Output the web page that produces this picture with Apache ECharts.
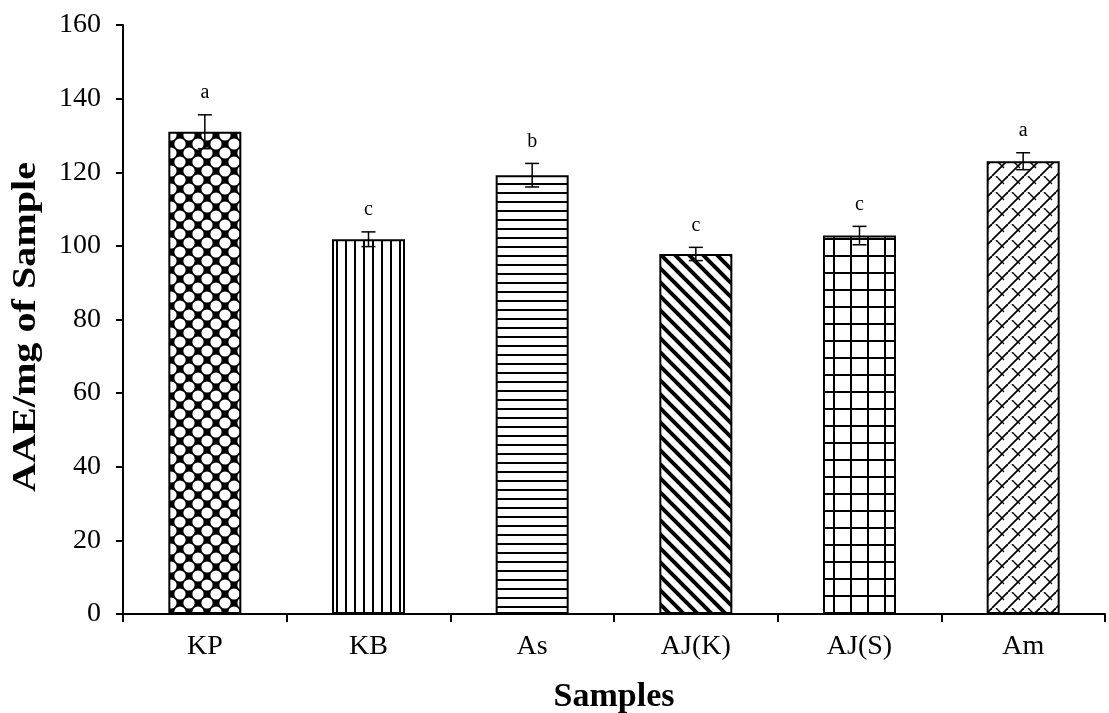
<!DOCTYPE html>
<html><head><meta charset="utf-8">
<script src="https://cdn.jsdelivr.net/npm/echarts@6/dist/echarts.min.js"></script>
<style>html,body{margin:0;padding:0;background:#fff}#c{width:1109px;height:713px}</style>
</head><body><div id="c"></div>
<script>
const categories = ['KP','KB','As','AJ(K)','AJ(S)','Am'];
const values = [131, 101.8, 119.2, 97.8, 102.8, 123];
const errors = [4.6, 2, 3.2, 1.8, 2.5, 2.3];
const letters = ['a','c','b','c','c','a'];
const yTicks = [0,20,40,60,80,100,120,140,160];
const yTitle = 'AAE/mg of Sample';
const xTitle = 'Samples';

function mk(w,h,draw){const c=document.createElement('canvas');c.width=w;c.height=h;const g=c.getContext('2d');g.fillStyle='#fff';g.fillRect(0,0,w,h);draw(g,w,h);return c;}
const pats = [
  mk(18,18,(g,w,h)=>{g.fillStyle='#000';g.fillRect(0,0,w,h);g.fillStyle='#fff';
    [[0,0],[18,0],[0,18],[18,18],[9,9]].forEach(p=>{g.beginPath();g.arc(p[0],p[1],5.6,0,Math.PI*2);g.fill();});}),
  mk(9,10,(g)=>{g.fillStyle='#000';g.fillRect(3,0,2,10);}),
  mk(10,9,(g)=>{g.fillStyle='#000';g.fillRect(0,3,10,2);}),
  mk(14,14,(g,w,h)=>{g.strokeStyle='#000';g.lineWidth=4;
    for(let k=-1;k<=1;k++){g.beginPath();g.moveTo(k*w-2,-2);g.lineTo(k*w+w+2,h+2);g.stroke();}}),
  mk(17,17,(g)=>{g.fillStyle='#000';g.fillRect(0,0,17,2);g.fillRect(0,0,2,17);}),
  mk(16,16,(g,w,h)=>{g.strokeStyle='#000';g.lineWidth=1.8;
    for(let k=-1;k<=1;k++){g.beginPath();g.moveTo(k*w,h);g.lineTo(k*w+w,0);g.stroke();}
    g.lineWidth=1.4;for(let k=-1;k<=1;k++){g.beginPath();g.moveTo(k*w+4,0);g.lineTo(k*w+4+w/2,h/2);g.stroke();}})
];

const chart = echarts.init(document.getElementById('c'));
const serif = '"Liberation Serif","Times New Roman",serif';
chart.setOption({
  animation:false,
  grid:{left:123,right:4,top:25,bottom:99,containLabel:false,outerBoundsMode:'none'},
  xAxis:{type:'category',data:categories,
    axisLine:{lineStyle:{color:'#000',width:2}},
    axisTick:{show:true,length:8,lineStyle:{color:'#000',width:2},alignWithLabel:false},
    axisLabel:{color:'#000',fontFamily:serif,fontSize:28,margin:19},
    name:xTitle,nameLocation:'middle',nameGap:66,
    nameTextStyle:{color:'#000',fontFamily:serif,fontSize:34,fontWeight:'bold'}},
  yAxis:{type:'value',min:0,max:160,interval:20,
    axisLine:{show:true,lineStyle:{color:'#000',width:2}},
    axisTick:{show:true,length:7,lineStyle:{color:'#000',width:2}},
    splitLine:{show:false},
    axisLabel:{color:'#000',fontFamily:serif,fontSize:28,margin:22,
      formatter:v=>yTicks.includes(v)?String(v):''}},
  graphic:[{type:'text',x:26,y:327,rotation:Math.PI/2,scaleX:1.18,
    style:{text:yTitle,font:'bold 34px '+serif,fill:'#000',textAlign:'center',textVerticalAlign:'middle'}}],
  series:[
    {type:'bar',barWidth:73,
     data:values.map((v,i)=>({value:v,itemStyle:{color:{image:pats[i],repeat:'repeat'},borderColor:'#000',borderWidth:2}}))},
    {type:'custom',z:5,
     data:values.map((v,i)=>[i,v,errors[i]]),
     renderItem:(params,api)=>{
       const i=api.value(0),v=api.value(1),e=api.value(2);
       const top=api.coord([i,v+e]),bot=api.coord([i,v-e]);
       const hw=7;
       return {type:'group',children:[
         {type:'line',shape:{x1:top[0],y1:top[1],x2:bot[0],y2:bot[1]},style:{stroke:'#000',lineWidth:1.5}},
         {type:'line',shape:{x1:top[0]-hw,y1:top[1],x2:top[0]+hw,y2:top[1]},style:{stroke:'#000',lineWidth:1.5}},
         {type:'line',shape:{x1:bot[0]-hw,y1:bot[1],x2:bot[0]+hw,y2:bot[1]},style:{stroke:'#000',lineWidth:1.5}},
         {type:'text',style:{text:letters[i],x:top[0],y:top[1]-12,textAlign:'center',textVerticalAlign:'bottom',
           font:'20px '+serif,fill:'#000'}}
       ]};
     }}
  ]
});
</script></body></html>
